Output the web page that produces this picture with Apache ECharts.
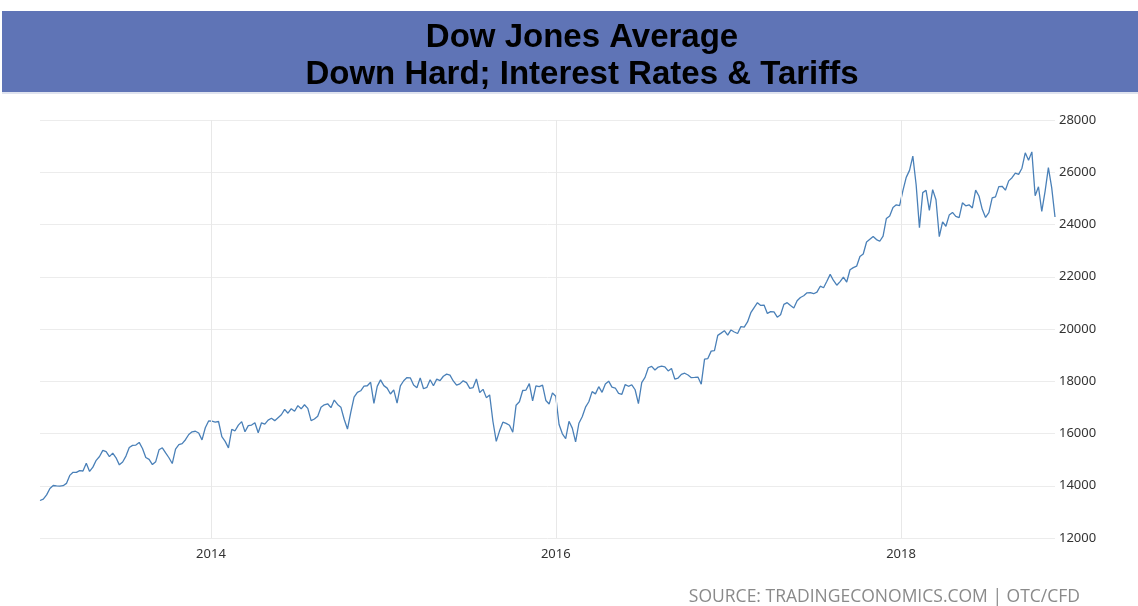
<!DOCTYPE html>
<html>
<head>
<meta charset="utf-8">
<script src="https://cdn.jsdelivr.net/npm/echarts@6/dist/echarts.min.js"></script>
<style>
html,body{margin:0;padding:0;background:#fff;}
#chart{width:1138px;height:606px;}
</style>
</head>
<body>
<div id="chart"></div>
<script>
// Weekly Dow Jones closes, first week ending 2013-01-04
var startDate = '2013-01-04';
var dow2013 = [13435,13488,13650,13896,14010,13993,13982,14001,14090,14397,14515,14512,14579,14565,14865,14547,14712,14974,15118,15354,15303,15116,15248,15071,14800,14910,15136,15464,15544,15559,15658,15425,15081,15010,14810,14922,15376,15452,15258,15072,14850,15400,15570,15615,15762,15962,16064,16086,16020,15755,16221,16479];
var dow2014 = [16470,16437,16459,15879,15699,15450,16154,16104,16322,16453,16066,16303,16323,16413,16027,16409,16361,16513,16584,16492,16606,16717,16924,16776,16948,16852,17068,16944,17100,16961,16493,16554,16663,17001,17098,17138,16988,17280,17113,17009,16544,16170,16805,17391,17574,17635,17810,17828,17959,17150,17805,18054];
var dow2015 = [17833,17737,17511,17673,17165,17825,18019,18140,18133,17856,17749,18128,17713,17763,18058,17827,18080,18024,18191,18273,18232,18011,17849,17899,18016,17947,17730,17760,18086,17568,17690,17373,17477,16460,15700,16102,16433,16385,16315,16050,17084,17216,17646,17664,17910,17245,17824,17798,17848,17265,17128,17553];
var dow2016 = [17425,16346,15988,15800,16466,16205,15680,16392,16640,17007,17214,17602,17516,17793,17577,17898,18004,17774,17741,17535,17501,17873,17807,17865,17675,17140,17949,18147,18517,18571,18432,18544,18577,18553,18395,18492,18085,18124,18262,18308,18240,18138,18146,18161,17888,18848,18868,19153,19171,19757,19843,19934,19763];
var dow2017 = [19964,19886,19827,20094,20071,20269,20624,20822,21006,20903,20915,20597,20663,20656,20453,20548,20941,21007,20897,20805,21080,21206,21272,21384,21395,21350,21414,21638,21580,21830,22092,21858,21675,21814,21988,21798,22268,22350,22405,22774,22871,23329,23434,23539,23422,23358,23558,24232,24329,24652,24754,24719];
var dow2018 = [25296,25803,26072,26617,25521,23880,25220,25310,24538,25336,24947,23533,24103,23933,24360,24463,24311,24263,24831,24715,24753,24635,25317,25090,24581,24271,24456,25019,25058,25451,25463,25313,25669,25790,25965,25917,26155,26744,26458,26780,25100,25444,24500,25271,26180,25413,24286];
var yearTicks = ['2014-01-01','2016-01-01','2018-01-01'];
var yTicks = {min:12000, max:28000, step:2000};
var titleLines = ['Dow Jones Average','Down Hard; Interest Rates & Tariffs'];
var sourceText = 'SOURCE: TRADINGECONOMICS.COM | OTC/CFD';

var values = [].concat(dow2013, dow2014, dow2015, dow2016, dow2017, dow2018);
var t0 = new Date(startDate + 'T00:00:00').getTime();
var seriesData = values.map(function(v, i){
  var d = new Date(t0);
  d.setDate(d.getDate() + 7*i);
  return [d.getTime(), v];
});

var chart = echarts.init(document.getElementById('chart'), null, {renderer:'canvas'});
chart.setOption({
  animation: false,
  backgroundColor: '#ffffff',
  graphic: [
    {type:'rect', left:2, top:11, shape:{width:1136, height:81}, style:{fill:'#5f74b6'}, z:0},
    {type:'rect', left:2, top:92, shape:{width:1136, height:2}, style:{fill:'#dfe3ef'}, z:0},
    {type:'text', right:58, top:588, style:{text:sourceText, fill:'#8a8a8a', font:'17.5px "Open Sans"'}, z:10}
  ],
  title: {
    text: titleLines.join('\n'),
    left: 577,
    textAlign: 'center',
    top: 14,
    textStyle: {fontFamily:'Liberation Sans, Arial', fontWeight:'bold', fontSize:33, lineHeight:37, color:'#000'},
    z: 10
  },
  grid: {left:40, right:83, top:120, bottom:68},
  xAxis: {
    type: 'time',
    min: 'dataMin',
    max: 'dataMax',
    axisLine: {show:false},
    axisTick: {show:false},
    splitLine: {show:false},
    axisLabel: {
      color:'#333', fontSize:13, fontFamily:'Noto Sans', margin:10,
      formatter: function(v){
        var d = new Date(v);
        if (d.getMonth()===0 && d.getDate()===1 && d.getFullYear()%2===0) return String(d.getFullYear());
        return '';
      }
    }
  },
  yAxis: {
    type: 'value',
    position: 'right',
    min: yTicks.min, max: yTicks.max, interval: yTicks.step,
    axisLine: {show:false},
    axisTick: {show:false},
    splitLine: {lineStyle:{color:'#ececec', width:1}},
    axisLabel: {color:'#333', fontSize:13, fontFamily:'Noto Sans', margin:4, formatter: function(v){ return String(v); }}
  },
  series: [{
    type: 'line',
    data: seriesData,
    showSymbol: false,
    lineStyle: {color:'#4a80b8', width:1.3},
    markLine: {
      silent: true,
      symbol: ['none','none'],
      label: {show:false},
      lineStyle: {color:'#e8e8e8', type:'solid', width:1},
      data: yearTicks.map(function(y){ return {xAxis: new Date(y + 'T00:00:00').getTime()}; })
    }
  }]
});
</script>
</body>
</html>
